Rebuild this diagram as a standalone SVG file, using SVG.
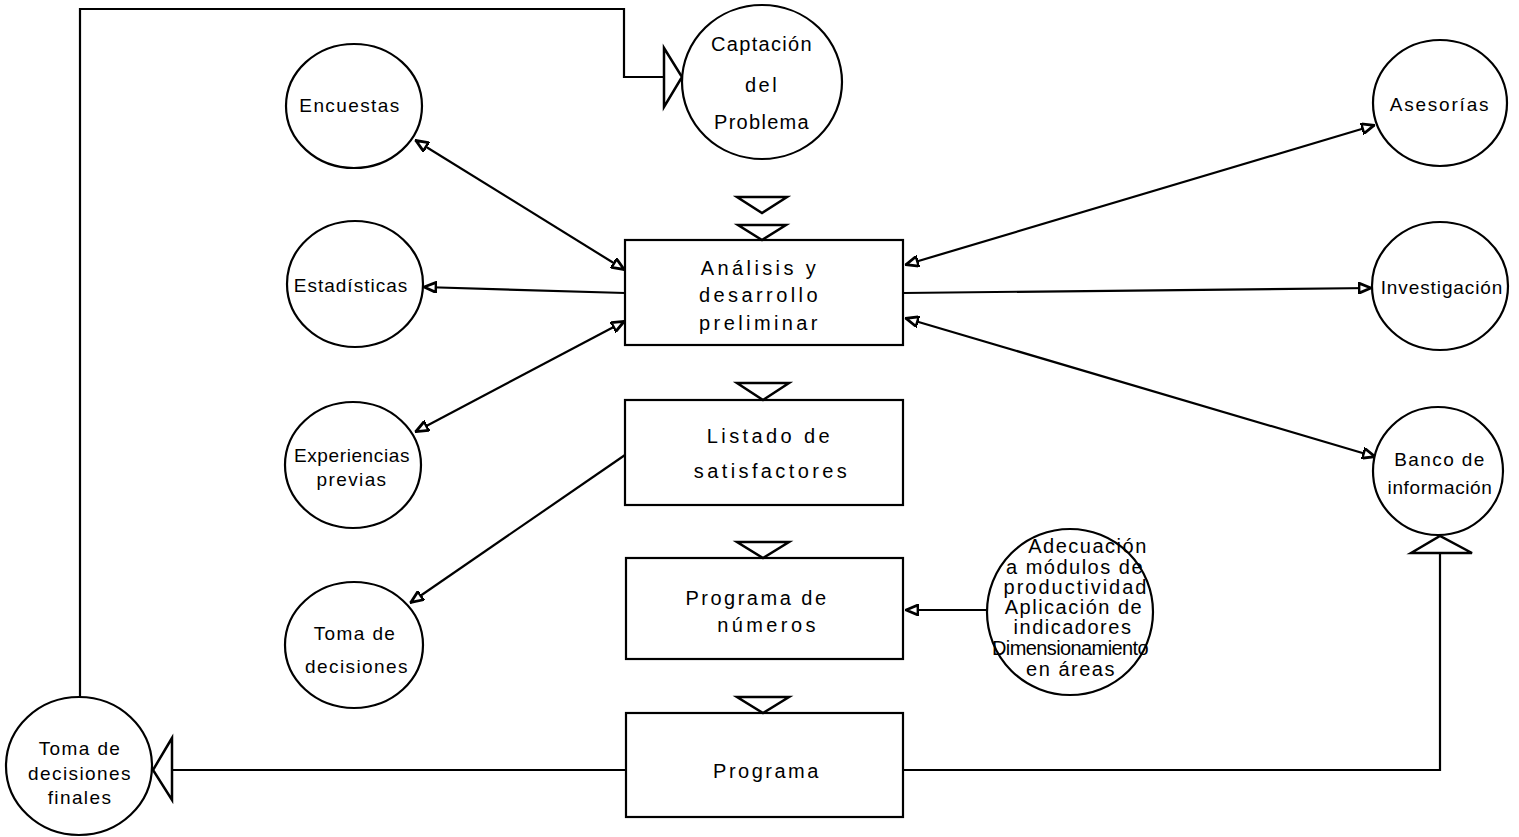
<svg xmlns="http://www.w3.org/2000/svg" width="1519" height="837" viewBox="0 0 1519 837">
<style>
.n{fill:none;stroke:#000;stroke-width:2.2}
.c{fill:#fff;stroke:#000;stroke-width:2.2}
.t{font-family:"Liberation Sans",Arial,sans-serif;font-size:19px;fill:#000;text-anchor:middle;letter-spacing:1.4px}
.b{font-family:"Liberation Sans",Arial,sans-serif;font-size:20px;fill:#000;text-anchor:middle;letter-spacing:3.4px}
.s{font-family:"Liberation Sans",Arial,sans-serif;font-size:20px;fill:#000;text-anchor:middle;letter-spacing:1.5px}
.tri{fill:#fff;stroke:#000;stroke-width:2.5;stroke-linejoin:miter}
</style>
<defs>
<marker id="ah" viewBox="0 0 14 12" refX="14" refY="6" markerWidth="14" markerHeight="12" markerUnits="userSpaceOnUse" orient="auto-start-reverse">
<path d="M1,1 L13,6 L1,11 Z" fill="#fff" stroke="#000" stroke-width="2.8"/>
</marker>
</defs>
<rect width="1519" height="837" fill="#fff"/>

<g id="connectors">
<polyline class="n" points="80,697 80,9 624,9 624,77 664,77"/>
<polygon class="tri" points="664,48 682,77 664,107"/>
<polyline class="n" points="903,770 1440,770 1440,553"/>
<polygon class="tri" points="1411,553 1440,536 1472,553"/>
<line class="n" x1="626" y1="770" x2="172" y2="770"/>
<polygon class="tri" points="172,738 153,770 172,800"/>
<polygon class="tri" points="737,197 787,197 762,213"/>
<polygon class="tri" points="738,225 786,225 762,240"/>
<polygon class="tri" points="737,383 789,383 763,400"/>
<polygon class="tri" points="737,542 789,542 763,558"/>
<polygon class="tri" points="737,697 789,697 763,713"/>
<line class="n" x1="415" y1="140" x2="625" y2="270" marker-start="url(#ah)" marker-end="url(#ah)"/>
<line class="n" x1="625" y1="293" x2="423" y2="287" marker-end="url(#ah)"/>
<line class="n" x1="415" y1="432" x2="625" y2="321" marker-start="url(#ah)" marker-end="url(#ah)"/>
<line class="n" x1="625" y1="455" x2="410" y2="603" marker-end="url(#ah)"/>
<line class="n" x1="905" y1="265" x2="1375" y2="125" marker-start="url(#ah)" marker-end="url(#ah)"/>
<line class="n" x1="903" y1="293" x2="1372" y2="288" marker-end="url(#ah)"/>
<line class="n" x1="905" y1="318" x2="1376" y2="457" marker-start="url(#ah)" marker-end="url(#ah)"/>
<line class="n" x1="988" y1="610" x2="905" y2="610" marker-end="url(#ah)"/>
</g>

<g id="captacion">
<ellipse class="c" cx="762" cy="82" rx="80" ry="77"/>
<text class="t" x="762" y="51" style="font-size:20px;letter-spacing:1.3px">Captación</text>
<text class="t" x="762" y="92" style="font-size:20px;letter-spacing:2.5px">del</text>
<text class="t" x="762" y="129" style="font-size:20px;letter-spacing:1.3px">Problema</text>
</g>

<g id="analisis">
<rect class="n" x="625" y="240" width="278" height="105"/>
<text class="b" x="760" y="275">Análisis y</text>
<text class="b" x="760" y="302">desarrollo</text>
<text class="b" x="760" y="330">preliminar</text>
</g>

<g id="listado">
<rect class="n" x="625" y="400" width="278" height="105"/>
<text class="b" x="770" y="443">Listado de</text>
<text class="b" x="772" y="478">satisfactores</text>
</g>

<g id="programa-numeros">
<rect class="n" x="626" y="558" width="277" height="101"/>
<text class="b" x="757" y="605" style="letter-spacing:2.5px">Programa de</text>
<text class="b" x="768" y="632">números</text>
</g>

<g id="programa">
<rect class="n" x="626" y="713" width="277" height="104"/>
<text class="b" x="767" y="778" style="letter-spacing:2.5px">Programa</text>
</g>

<g id="encuestas">
<ellipse class="c" cx="354" cy="106" rx="68" ry="62"/>
<text class="t" x="350" y="112">Encuestas</text>
</g>

<g id="estadisticas">
<ellipse class="c" cx="355" cy="284" rx="68" ry="63"/>
<text class="t" x="351" y="292" style="letter-spacing:1px">Estadísticas</text>
</g>

<g id="experiencias">
<ellipse class="c" cx="353" cy="465" rx="68" ry="63"/>
<text class="t" x="352" y="462" style="letter-spacing:0.6px">Experiencias</text>
<text class="t" x="352" y="486">previas</text>
</g>

<g id="toma">
<ellipse class="c" cx="354" cy="645" rx="69" ry="63"/>
<text class="t" x="355" y="640">Toma de</text>
<text class="t" x="357" y="673">decisiones</text>
</g>

<g id="asesorias">
<ellipse class="c" cx="1440" cy="103" rx="67" ry="63"/>
<text class="t" x="1440" y="111" style="letter-spacing:1.8px">Asesorías</text>
</g>

<g id="investigacion">
<ellipse class="c" cx="1440" cy="286" rx="68" ry="64"/>
<text class="t" x="1442" y="294" style="letter-spacing:0.9px">Investigación</text>
</g>

<g id="banco">
<ellipse class="c" cx="1438" cy="471" rx="65" ry="64"/>
<text class="t" x="1440" y="466">Banco de</text>
<text class="t" x="1440" y="494" style="letter-spacing:0.6px">información</text>
</g>

<g id="adecuacion">
<ellipse class="c" cx="1070" cy="612" rx="83" ry="83"/>
<text class="s" x="1088" y="553">Adecuación</text>
<text class="s" x="1075" y="574">a módulos de</text>
<text class="s" x="1076" y="594" style="letter-spacing:2px">productividad</text>
<text class="s" x="1074" y="614">Aplicación de</text>
<text class="s" x="1073" y="634">indicadores</text>
<text class="s" x="1070" y="655" style="letter-spacing:-0.6px">Dimensionamiento</text>
<text class="s" x="1071" y="676">en áreas</text>
</g>

<g id="toma-finales">
<ellipse class="c" cx="79" cy="766" rx="73" ry="69"/>
<text class="t" x="80" y="755">Toma de</text>
<text class="t" x="80" y="780">decisiones</text>
<text class="t" x="80" y="804">finales</text>
</g>
</svg>
